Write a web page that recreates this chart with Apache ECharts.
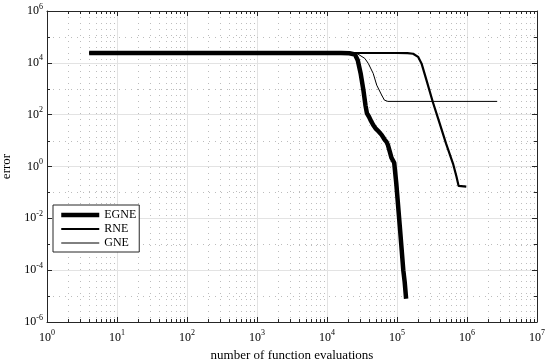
<!DOCTYPE html>
<html><head><meta charset="utf-8">
<script src="https://cdn.jsdelivr.net/npm/echarts@6/dist/echarts.min.js"></script>
<style>html,body{margin:0;padding:0;background:#fff}#c{width:550px;height:364px}</style>
</head><body><div id="c"></div>
<script>
// ---- data ----
const seriesNames = ['EGNE', 'RNE', 'GNE'];
const egneX = [4, 15850, 20900, 25100, 27500, 30200, 33100, 35500, 37200, 39800, 41500, 42700, 45700, 50100, 52500, 55000, 60300, 62000, 66100, 70800, 74100, 79400, 83200, 91200, 97700, 109600, 123000, 128800, 134900, 134900];
const egneY = [24000, 24000, 23500, 20900, 12600, 3980, 891, 224, 112, 83, 83, 56, 40, 28, 28, 22, 16.6, 15, 11.2, 8.9, 6.8, 3.5, 2.2, 1.4, 0.22, 0.005, 1e-4, 3.5e-5, 3.2e-5, 7.9e-6];
const rneX = [4, 100000, 141000, 170000, 200000, 224000, 263000, 324000, 407000, 501000, 631000, 708000, 759000, 977000];
const rneY = [24000, 24000, 23800, 22400, 17000, 9500, 2190, 316, 46, 7.8, 1.3, 0.40, 0.178, 0.166];
const gneX = [4, 20000, 27500, 34700, 38900, 45700, 51300, 60300, 66100, 74100, 2700000];
const gneY = [24000, 24000, 22000, 14800, 9500, 3900, 1380, 575, 363, 325, 325];
const xTickExps = [0, 1, 2, 3, 4, 5, 6, 7];
const yTickExps = [-6, -4, -2, 0, 2, 4, 6];
const xName = 'number of function evaluations';
const yName = 'error';

const FONT = '"Liberation Serif", "Times New Roman", serif';
const AX = '#262626';
const zip = (xs, ys) => xs.map((x, i) => [x, ys[i]]);

function supLabel(v) {
  const e = Math.round(Math.log10(v));
  return '{b|10}{s|' + e + '}';
}
const rich = {
  b: { fontFamily: FONT, fontSize: 12, color: '#000' },
  s: { fontFamily: FONT, fontSize: 8, color: '#000', padding: [0, 0, 9, 0] }
};

const xMin = Math.pow(10, xTickExps[0]), xMax = Math.pow(10, xTickExps[xTickExps.length - 1]);
const yMin = Math.pow(10, yTickExps[0]), yMax = Math.pow(10, yTickExps[yTickExps.length - 1]);

function xAx(pos, show) {
  return {
    type: 'log', logBase: 10, min: xMin, max: xMax, interval: 1, position: pos,
    name: show ? xName : '', nameLocation: 'middle', nameGap: 27,
    nameTextStyle: { fontFamily: FONT, fontSize: 13, color: '#000' },
    axisLine: { show: true, onZero: false, lineStyle: { color: AX, width: 1 } },
    axisTick: { show: true, inside: true, length: 5, lineStyle: { color: AX } },
    axisLabel: { show: show, formatter: supLabel, rich: rich, margin: 7 },
    splitLine: { show: show, lineStyle: { color: '#e3e3e3', width: 1 } }
  };
}
function yAx(pos, show) {
  return {
    type: 'log', logBase: 10, min: yMin, max: yMax, interval: 2, position: pos,
    name: show ? yName : '', nameLocation: 'middle', nameGap: 25, nameRotate: 90,
    nameTextStyle: { fontFamily: FONT, fontSize: 13, color: '#000' },
    axisLine: { show: true, onZero: false, lineStyle: { color: AX, width: 1 } },
    axisTick: { show: true, inside: true, length: 5, lineStyle: { color: AX } },
    axisLabel: { show: show, formatter: supLabel, rich: rich, margin: 4 },
    splitLine: { show: show, lineStyle: { color: '#e3e3e3', width: 1 } }
  };
}

const chart = echarts.init(document.getElementById('c'), null, { renderer: 'canvas' });
const widths = [4.5, 2.2, 1];
const datas = [zip(egneX, egneY), zip(rneX, rneY), zip(gneX, gneY)];
chart.setOption({
  animation: false,
  backgroundColor: '#fff',
  grid: { left: 47, right: 13, top: 11, bottom: 42, containLabel: false, outerBoundsMode: 'none' },
  xAxis: [xAx('bottom', true), xAx('top', false)],
  yAxis: [yAx('left', true), yAx('right', false)],
  legend: {
    orient: 'vertical', left: 53, top: 205,
    padding: [4, 3, 3, 6], itemGap: 2, itemWidth: 38, itemHeight: 10,
    backgroundColor: '#fff', borderColor: AX, borderWidth: 1,
    textStyle: { fontFamily: FONT, fontSize: 12, color: '#000', lineHeight: 10 },
    data: seriesNames.map((n, i) => ({ name: n, lineStyle: { width: widths[i], color: '#000' }, itemStyle: { color: '#000', opacity: 0 } })),
    selectedMode: false
  },
  series: seriesNames.map((n, i) => ({
    name: n, type: 'line', xAxisIndex: 0, yAxisIndex: 0,
    data: datas[i], showSymbol: false, symbol: 'none',
    lineStyle: { color: '#000', width: widths[i] }, itemStyle: { color: '#000' },
    z: 10 - i
  }))
});

// minor grid lines and minor ticks
const g = [];
const yTop = chart.convertToPixel({ yAxisIndex: 0 }, yMax);
const yBot = chart.convertToPixel({ yAxisIndex: 0 }, yMin);
const xL = chart.convertToPixel({ xAxisIndex: 0 }, xMin);
const xR = chart.convertToPixel({ xAxisIndex: 0 }, xMax);
function ln(x1, y1, x2, y2, style, z) {
  g.push({ type: 'line', silent: true, z: z, shape: { x1, y1, x2, y2 }, style: style });
}
const dotStyle = { stroke: '#bdbdbd', lineWidth: 1, lineDash: [1, 5] };
const tickStyle = { stroke: AX, lineWidth: 1 };
for (let e = xTickExps[0]; e < xTickExps[xTickExps.length - 1]; e++) {
  for (let m = 2; m <= 9; m++) {
    const px = Math.round(chart.convertToPixel({ xAxisIndex: 0 }, m * Math.pow(10, e))) + 0.5;
    ln(px, yTop, px, yBot, dotStyle, 0);
    ln(px, yBot, px, yBot - 3, tickStyle, 1);
    ln(px, yTop, px, yTop + 3, tickStyle, 1);
  }
}
// y minor grid at intermediate decades
for (let e = yTickExps[0] + 1; e < yTickExps[yTickExps.length - 1]; e += 2) {
  const py = Math.round(chart.convertToPixel({ yAxisIndex: 0 }, Math.pow(10, e))) + 0.5;
  ln(xL, py, xR, py, dotStyle, 0);
  ln(xL, py, xL + 3, py, tickStyle, 1);
  ln(xR, py, xR - 3, py, tickStyle, 1);
}
chart.setOption({ graphic: g });
</script>
</body></html>
